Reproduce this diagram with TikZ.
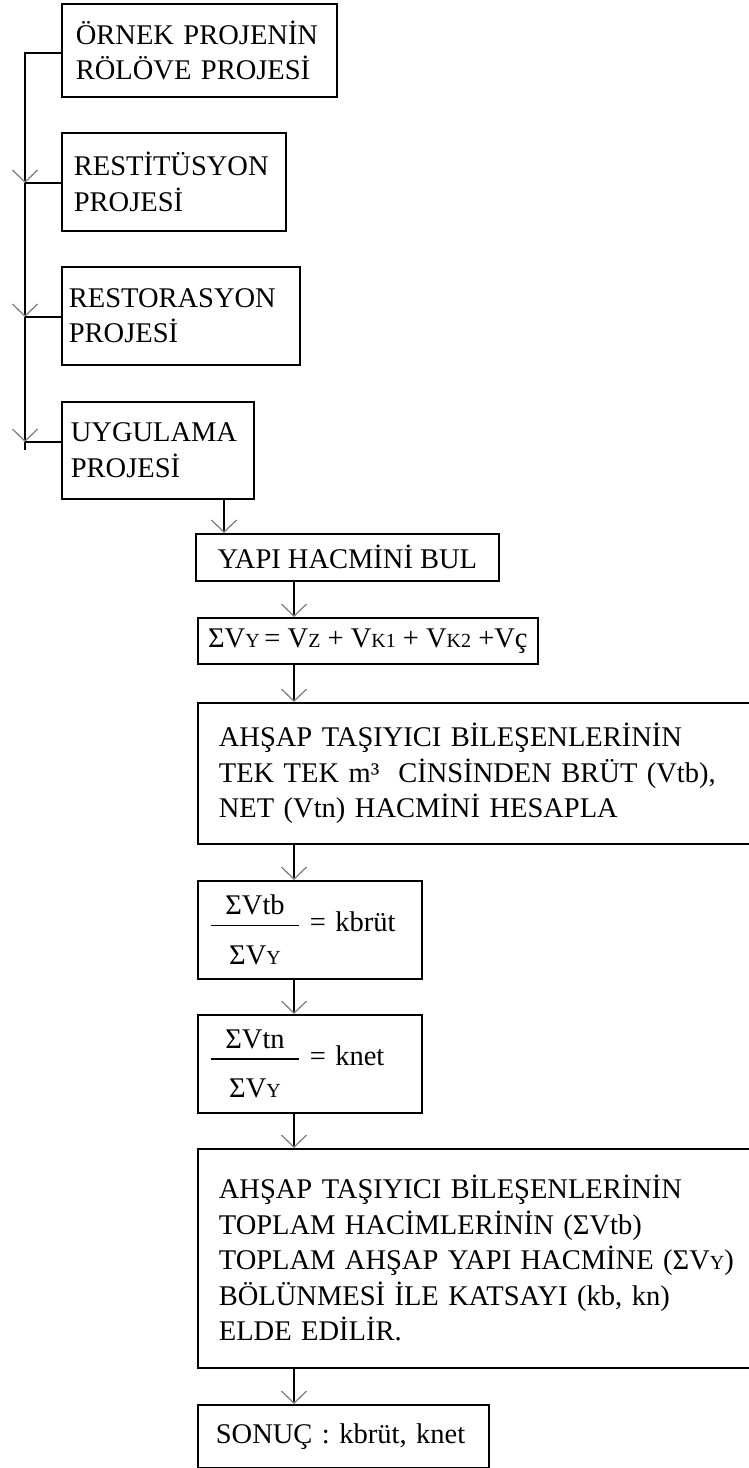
\documentclass[tikz,border=0pt]{standalone}
\usepackage{amsmath}
\usepackage{fontspec}
\setmainfont{Liberation Serif}
\usetikzlibrary{arrows.meta,positioning}

% small capital index letters (V_Y, V_K1 ...)
\newcommand{\sm}[1]{{\fontsize{20}{20}\selectfont #1}}

\begin{document}
\begin{tikzpicture}[
    x=1pt, y=-1pt,
    font=\fontsize{28.5}{35.5}\selectfont,
    flowbox/.style={
      rectangle, draw, line width=1.7pt,
      anchor=north west, align=left,
      inner ysep=0pt
    },
    flowline/.style={line width=1.7pt},
    flowarr/.style={
      flowline,
      -{Straight Barb[length=12pt, width=25pt, line width=1.3pt, color=black!50]}
    }
  ]
  \useasboundingbox (0,0) rectangle (748,1468);

  % Project stages (left column)
  \node[flowbox, text width=247pt, inner xsep=14pt, minimum height=93pt] (orn) at (61,3)
    {ÖRNEK PROJENİN\\RÖLÖVE PROJESİ};
  \node[flowbox, text width=200pt, inner xsep=12pt, minimum height=98pt] (restit) at (61,132)
    {RESTİTÜSYON\\PROJESİ};
  \node[flowbox, text width=224pt, inner xsep=7pt, minimum height=98pt] (restor) at (61,266)
    {RESTORASYON\\PROJESİ};
  \node[flowbox, text width=174pt, inner xsep=9pt, minimum height=97pt] (uygul) at (61,401)
    {UYGULAMA\\PROJESİ};

  % Volume calculation
  \node[flowbox, minimum width=303pt, minimum height=47pt] (hacim) at (195,533)
    {YAPI HACMİNİ BUL};
  \node[flowbox, minimum width=340pt, minimum height=46pt] (toplam) at (197,617)
    {ΣV\sm{Y}\,= V\sm{Z} + V\sm{K1} + V\sm{K2} +Vç};
  \node[flowbox, text width=522pt, inner xsep=21pt, minimum height=141pt] (hesap) at (197,702)
    {AHŞAP TAŞIYICI BİLEŞENLERİNİN\\TEK TEK m³~ CİNSİNDEN BRÜT (Vtb),\\NET (Vtn) HACMİNİ HESAPLA};

  % Ratios
  \node[flowbox, text width=200pt, inner xsep=12pt, minimum height=98pt] (kbrut) at (197,880)
    {$\genfrac{}{}{1.6pt}{0}{\makebox[88pt]{ΣVtb}}{\rule{0pt}{33pt}\makebox[88pt]{ΣV\sm{Y}}}$ = kbrüt};
  \node[flowbox, text width=200pt, inner xsep=12pt, minimum height=98pt] (knet) at (197,1014)
    {$\genfrac{}{}{1.6pt}{0}{\makebox[88pt]{ΣVtn}}{\rule{0pt}{33pt}\makebox[88pt]{ΣV\sm{Y}}}$ = knet};

  % Result
  \node[flowbox, text width=522pt, inner xsep=21pt, minimum height=219pt] (katsayi) at (197,1148)
    {AHŞAP TAŞIYICI BİLEŞENLERİNİN\\TOPLAM HACİMLERİNİN (ΣVtb)\\TOPLAM AHŞAP YAPI HACMİNE (ΣV\sm{Y})\\BÖLÜNMESİ İLE KATSAYI (kb, kn)\\ELDE EDİLİR.};
  \node[flowbox, text width=255pt, inner xsep=18pt, minimum height=63pt] (sonuc) at (197,1404)
    {SONUÇ : kbrüt, knet};

  % Left bus with junctions
  \coordinate (j1) at (25,53);
  \coordinate (j2) at (25,183);
  \coordinate (j3) at (25,317);
  \coordinate (j4) at (25,442);
  \coordinate (busend) at (25,450);
  \draw[flowarr] (orn.west |- j1) -- (j1) -- (j2);
  \draw[flowarr] (j2) -- (j3);
  \draw[flowarr] (j3) -- (j4);
  \draw[flowline] (j4) -- (busend);
  \draw[flowline] (j2) -- (restit.west |- j2);
  \draw[flowline] (j3) -- (restor.west |- j3);
  \draw[flowline] (j4) -- (uygul.west |- j4);

  % Vertical arrows
  \coordinate (ax1) at (224,0);
  \coordinate (ax2) at (294,0);
  \draw[flowarr] (uygul.south -| ax1) -- (hacim.north -| ax1);
  \foreach \a/\b in {hacim/toplam, toplam/hesap, hesap/kbrut, kbrut/knet, knet/katsayi, katsayi/sonuc}
    \draw[flowarr] (\a.south -| ax2) -- (\b.north -| ax2);
\end{tikzpicture}
\end{document}
